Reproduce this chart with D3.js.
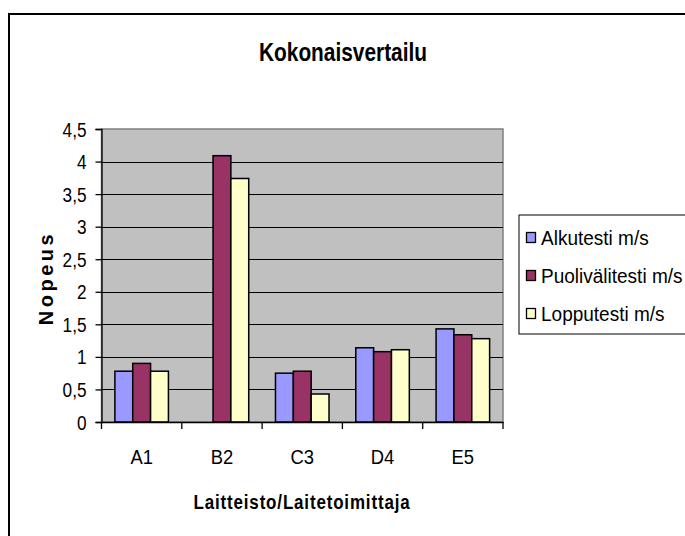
<!DOCTYPE html>
<html>
<head>
<meta charset="utf-8">
<script src="https://cdn.jsdelivr.net/npm/d3@7"></script>
<style>
  body { margin: 0; background: #fff; }
  svg { display: block; }
  text { font-family: "Liberation Sans", Arial, sans-serif; fill: #000; }
</style>
</head>
<body>
<svg id="chart"></svg>
<script>
var categories = ["A1", "B2", "C3", "D4", "E5"];
var series = ["Alkutesti m/s", "Puolivälitesti m/s", "Lopputesti m/s"];
var alkutesti = [0.78, 0, 0.75, 1.14, 1.43];
var puolivalitesti = [0.90, 4.09, 0.78, 1.08, 1.34];
var lopputesti = [0.78, 3.74, 0.43, 1.11, 1.28];
var yTicks = [0, 0.5, 1, 1.5, 2, 2.5, 3, 3.5, 4, 4.5];
var colors = ["#9999ff", "#993366", "#ffffcc"];

var values = [alkutesti, puolivalitesti, lopputesti];

var width = 685,
  height = 536,
  plot = { left: 101.5, right: 503, top: 129, bottom: 422 };

var svg = d3.select("#chart").attr("width", width).attr("height", height);

// squeeze text horizontally, the source font is a bit condensed
function narrow(sel, k) {
  sel.each(function() {
    var w = this.getComputedTextLength();
    d3.select(this)
      .attr("textLength", w * k)
      .attr("lengthAdjust", "spacingAndGlyphs");
  });
}

// chart frame (cut off at right and bottom like the source)
svg
  .append("rect")
  .attr("x", 9)
  .attr("y", 14)
  .attr("width", 720)
  .attr("height", 560)
  .attr("fill", "#fff")
  .attr("stroke", "#000")
  .attr("stroke-width", 2);

svg
  .append("text")
  .attr("x", 343)
  .attr("y", 61)
  .attr("text-anchor", "middle")
  .style("font-size", "25px")
  .style("font-weight", "bold")
  .attr("textLength", 168)
  .attr("lengthAdjust", "spacingAndGlyphs")
  .text("Kokonaisvertailu");

var x0 = d3
  .scaleBand()
  .domain(categories)
  .range([plot.left, plot.right])
  .padding(0);

var x1 = d3
  .scaleBand()
  .domain(series)
  .range([0, x0.bandwidth()])
  .paddingInner(0)
  .paddingOuter(0.75);

var y = d3
  .scaleLinear()
  .domain([0, 4.5])
  .range([plot.bottom, plot.top]);

// plot area
svg
  .append("rect")
  .attr("x", plot.left)
  .attr("y", plot.top)
  .attr("width", plot.right - plot.left)
  .attr("height", plot.bottom - plot.top)
  .attr("fill", "#c0c0c0")
  .attr("stroke", "#808080")
  .attr("stroke-width", 1.5);

// gridlines
svg
  .append("g")
  .selectAll("line")
  .data(yTicks.slice(1, -1))
  .enter()
  .append("line")
  .attr("x1", plot.left)
  .attr("x2", plot.right)
  .attr("y1", function(d) {
    return Math.round(y(d)) + 0.5;
  })
  .attr("y2", function(d) {
    return Math.round(y(d)) + 0.5;
  })
  .attr("stroke", "#000")
  .attr("stroke-width", 1);

// bars
var groups = svg
  .append("g")
  .selectAll("g")
  .data(categories)
  .enter()
  .append("g")
  .attr("transform", function(d) {
    return "translate(" + x0(d) + ",0)";
  });

groups
  .selectAll("rect")
  .data(function(d, i) {
    return series.map(function(s, j) {
      return { key: s, value: values[j][i], color: colors[j] };
    });
  })
  .enter()
  .filter(function(d) {
    return d.value > 0;
  })
  .append("rect")
  .attr("x", function(d) {
    return x1(d.key);
  })
  .attr("y", function(d) {
    return y(d.value);
  })
  .attr("width", x1.bandwidth())
  .attr("height", function(d) {
    return y(0) - y(d.value);
  })
  .attr("fill", function(d) {
    return d.color;
  })
  .attr("stroke", "#000")
  .attr("stroke-width", 1.5);

// y axis
var yAxis = d3
  .axisLeft(y)
  .tickValues(yTicks)
  .tickSize(6)
  .tickPadding(9)
  .tickFormat(function(d) {
    return String(d).replace(".", ",");
  });

var gy = svg
  .append("g")
  .attr("transform", "translate(" + plot.left + ",0)")
  .call(yAxis);
gy.selectAll("text").style("font-size", "20px").attr("dy", "0.35em").call(narrow, 0.86);
gy.selectAll("line,path").attr("stroke", "#000").attr("stroke-width", 1.3);

// x axis
var xAxis = d3
  .axisBottom(x0)
  .tickSize(0)
  .tickPadding(28);

var gx = svg
  .append("g")
  .attr("transform", "translate(0," + plot.bottom + ")")
  .call(xAxis);
gx.select(".domain").attr("stroke", "#000").attr("stroke-width", 1.3);
gx.selectAll("text").style("font-size", "20px").call(narrow, 0.92);

// category separators below the axis
gx
  .selectAll(".sep")
  .data(categories.concat(["end"]))
  .enter()
  .append("line")
  .attr("class", "sep")
  .attr("x1", function(d, i) {
    return plot.left + i * x0.step();
  })
  .attr("x2", function(d, i) {
    return plot.left + i * x0.step();
  })
  .attr("y1", 0)
  .attr("y2", 7)
  .attr("stroke", "#000")
  .attr("stroke-width", 1.3);

// axis titles
svg
  .append("text")
  .attr("x", 302)
  .attr("y", 509)
  .attr("text-anchor", "middle")
  .style("font-size", "20px")
  .style("font-weight", "bold")
  .style("letter-spacing", "1px")
  .attr("textLength", 217)
  .attr("lengthAdjust", "spacingAndGlyphs")
  .text("Laitteisto/Laitetoimittaja");

svg
  .append("text")
  .attr("transform", "translate(53,278) rotate(-90)")
  .attr("text-anchor", "middle")
  .style("font-size", "20px")
  .style("font-weight", "bold")
  .style("letter-spacing", "3.5px")
  .text("Nopeus");

// legend
var legend = svg.append("g").attr("transform", "translate(519,215)");

legend
  .append("rect")
  .attr("width", 200)
  .attr("height", 119)
  .attr("fill", "#fff")
  .attr("stroke", "#000")
  .attr("stroke-width", 1);

var items = legend
  .selectAll(".item")
  .data(series)
  .enter()
  .append("g")
  .attr("class", "item")
  .attr("transform", function(d, i) {
    return "translate(0," + (22 + i * 38) + ")";
  });

items
  .append("rect")
  .attr("x", 7.5)
  .attr("y", -4.5)
  .attr("width", 9)
  .attr("height", 10)
  .attr("fill", function(d, i) {
    return colors[i];
  })
  .attr("stroke", "#000")
  .attr("stroke-width", 1.3);

items
  .append("text")
  .attr("x", 22)
  .attr("y", 8)
  .style("font-size", "20px")
  .text(function(d) {
    return d;
  })
  .call(narrow, 0.95);
</script>
</body>
</html>
